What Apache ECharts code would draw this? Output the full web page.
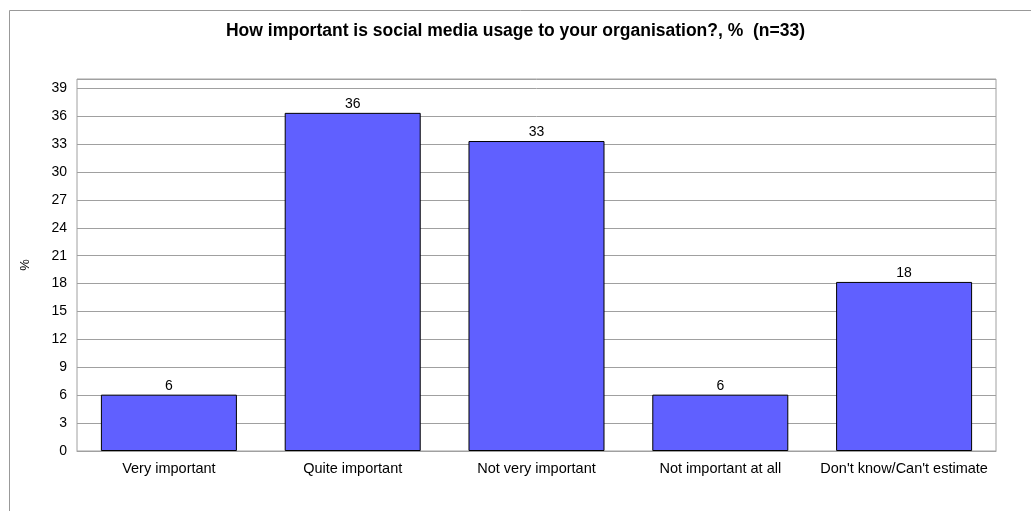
<!DOCTYPE html>
<html>
<head>
<meta charset="utf-8">
<script src="https://cdn.jsdelivr.net/npm/echarts@6/dist/echarts.min.js"></script>
<style>
  html, body { margin: 0; padding: 0; background: #fff; }
  #myChart { width: 1031px; height: 511px; }
</style>
</head>
<body>
<div id="myChart"></div>
<script>
// survey answers, n=33
var categories = ['Very important', 'Quite important', 'Not very important', 'Not important at all', "Don't know/Can't estimate"]
var percents = [6.06, 36.36, 33.33, 6.06, 18.18]
var chartTitle = 'How important is social media usage to your organisation?, %  (n=33)'

var myChart = echarts.init(document.getElementById('myChart'))

var textFont = 'Arial, sans-serif'

myChart.setOption({
  backgroundColor: '#fff',
  animation: false,
  title: {
    text: chartTitle,
    left: 'center',
    top: 17,
    textStyle: {
      fontFamily: textFont,
      fontSize: 17.5,
      fontWeight: 'bold',
      color: '#000'
    }
  },
  // outer frame (only top and left edges are visible)
  graphic: [
    { type: 'line', shape: { x1: 9.5, y1: 10.5, x2: 1031, y2: 10.5 }, style: { stroke: '#999', lineWidth: 1 } },
    { type: 'line', shape: { x1: 9.5, y1: 10.5, x2: 9.5, y2: 511 }, style: { stroke: '#999', lineWidth: 1 } }
  ],
  grid: {
    left: 77,
    right: 35,
    top: 79,
    bottom: 60,
    show: true,
    borderColor: '#a0a0a0',
    borderWidth: 1
  },
  xAxis: {
    type: 'category',
    data: categories,
    axisLine: { show: true, lineStyle: { color: '#a0a0a0' } },
    axisTick: { show: false },
    axisLabel: {
      fontFamily: textFont,
      fontSize: 14.5,
      color: '#000',
      margin: 10,
      interval: 0
    }
  },
  yAxis: {
    type: 'value',
    min: 0,
    max: 40,
    interval: 3,
    name: '%',
    nameLocation: 'middle',
    nameGap: 45,
    nameRotate: 90,
    nameTextStyle: { fontFamily: textFont, fontSize: 13, color: '#000' },
    axisLine: { show: false },
    axisTick: { show: false },
    axisLabel: {
      fontFamily: textFont,
      fontSize: 14,
      color: '#000',
      margin: 10,
      showMaxLabel: false
    },
    splitLine: { lineStyle: { color: '#a0a0a0', width: 1 } }
  },
  series: [
    {
      type: 'bar',
      data: percents,
      barWidth: '74%',
      itemStyle: {
        color: '#6060ff',
        borderColor: '#000',
        borderWidth: 1
      },
      label: {
        show: true,
        position: 'top',
        distance: 2,
        fontFamily: textFont,
        fontSize: 14,
        color: '#000',
        formatter: function (p) { return Math.round(p.value) }
      }
    }
  ]
})
</script>
</body>
</html>
